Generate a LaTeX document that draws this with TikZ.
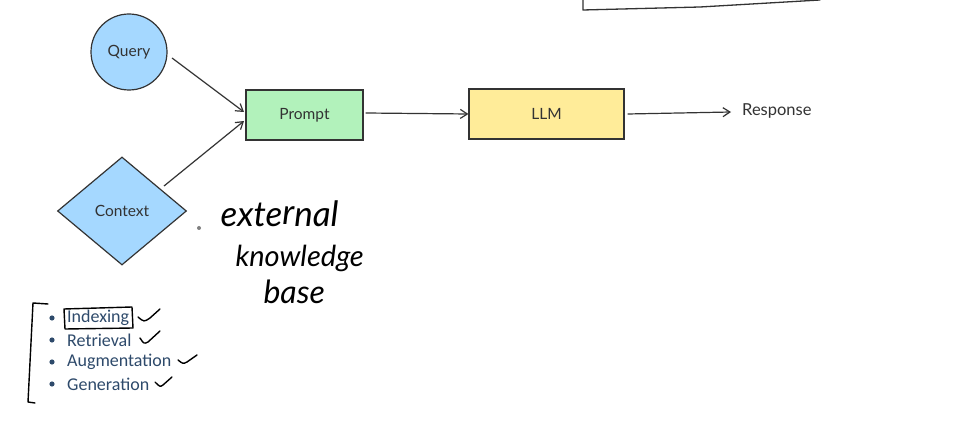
\documentclass[tikz,border=0pt]{standalone}
\usepackage{fontspec}
\setmainfont{Lato}
\newfontfamily\listfont{Carlito}
\usetikzlibrary{shapes.geometric,arrows.meta}
\definecolor{qblue}{HTML}{A5D8FF}
\definecolor{pgreen}{HTML}{B2F2BB}
\definecolor{lyellow}{HTML}{FFEC99}
\definecolor{edgec}{HTML}{333333}
\definecolor{listc}{HTML}{2E4A6B}
\tikzset{
  shapebox/.style={draw=edgec, line width=1.2pt, font=\fontsize{15.5}{18}\selectfont, text=edgec},
  conn/.style={draw=edgec, line width=1.2pt, -{Straight Barb[length=7pt,width=9pt]}},
  hand/.style={font=\itshape, text=black},
  listitem/.style={anchor=west, font=\listfont\fontsize{18}{20}\selectfont, text=listc, inner sep=0pt},
  ink/.style={draw=black, line width=1.4pt, line cap=round, line join=round},
}
\begin{document}
\begin{tikzpicture}[x=1pt,y=-1pt]
\useasboundingbox (0,0) rectangle (954,446);
\fill[white] (0,0) rectangle (954,446);
% nodes
\node[shapebox, circle, fill=qblue, minimum size=76pt, inner sep=0pt] (query) at (129,52) {Query};
\node[shapebox, diamond, fill=qblue, minimum width=129pt, minimum height=108pt, inner sep=0pt, aspect=1.2] (context) at (122,211) {Context};
\node[shapebox, rectangle, fill=pgreen, minimum width=117pt, minimum height=50pt] (prompt) at (304.5,115) {Prompt};
\node[shapebox, rectangle, fill=lyellow, minimum width=155pt, minimum height=50pt] (llm) at (546.5,114) {LLM};
\node[font=\fontsize{16.5}{18}\selectfont, text=edgec, anchor=west, inner sep=0pt] (resp) at (742,111) {Response};
\coordinate (respin) at (731,112);
% connectors
\coordinate (qout) at (172,58);
\coordinate (pin1) at (244,112);
\coordinate (cout) at (164,186);
\coordinate (pin2) at (244,121);
\draw[conn] (qout) -- (pin1);
\draw[conn] (cout) -- (pin2);
\draw[conn] (prompt.east) ++(2,-2) coordinate (pout) -- (llm.west);
\draw[conn] (llm.east) ++(3,0) -- (respin);
% top right partial box
\coordinate (tb1) at (583,0);
\coordinate (tb2) at (583,10);
\coordinate (tb3) at (700,7);
\coordinate (tb4) at (820,0);
\draw[ink, line width=1.3pt, draw=edgec] (tb1) -- (tb2) -- (tb3) -- (tb4);
% handwriting
\fill[gray] (199,228) circle (2pt);
\node[hand, anchor=west, font=\fontsize{35}{38}\selectfont\itshape] (ext) at (217,214) {exte\raisebox{2pt}{r}nal};
\node[hand, anchor=west, font=\fontsize{29}{32}\selectfont\itshape] (know) at (232,258) {knowledge};
\node[hand, anchor=west, font=\fontsize{32}{34}\selectfont\itshape] (base) at (260,292) {base};
% list
\foreach \yy/\tt/\nm in {318/Indexing/l1, 340/Retrieval/l2, 362/Augmentation/l3, 384/Generation/l4}{
  \fill[listc] (52,\yy) circle (2.6pt);
  \node[listitem] (\nm) at (67,\yy) {\tt};
}
\draw[ink] (64,309) -- (132,307) -- (133,328) -- (65,329) -- cycle;
% check marks
\draw[ink] (138,317) .. controls (144,322) .. (150,318) -- (160,309);
\draw[ink] (140,338) .. controls (144,344) .. (148,342) -- (160,331);
\draw[ink] (178,360) .. controls (183,364) .. (187,362) -- (197,355);
\draw[ink] (155,382) .. controls (160,387) .. (163,385) -- (172,377);
% bracket
\draw[ink] (48,304) -- (33,303) -- (28,402) -- (35,403);
\end{tikzpicture}
\end{document}
